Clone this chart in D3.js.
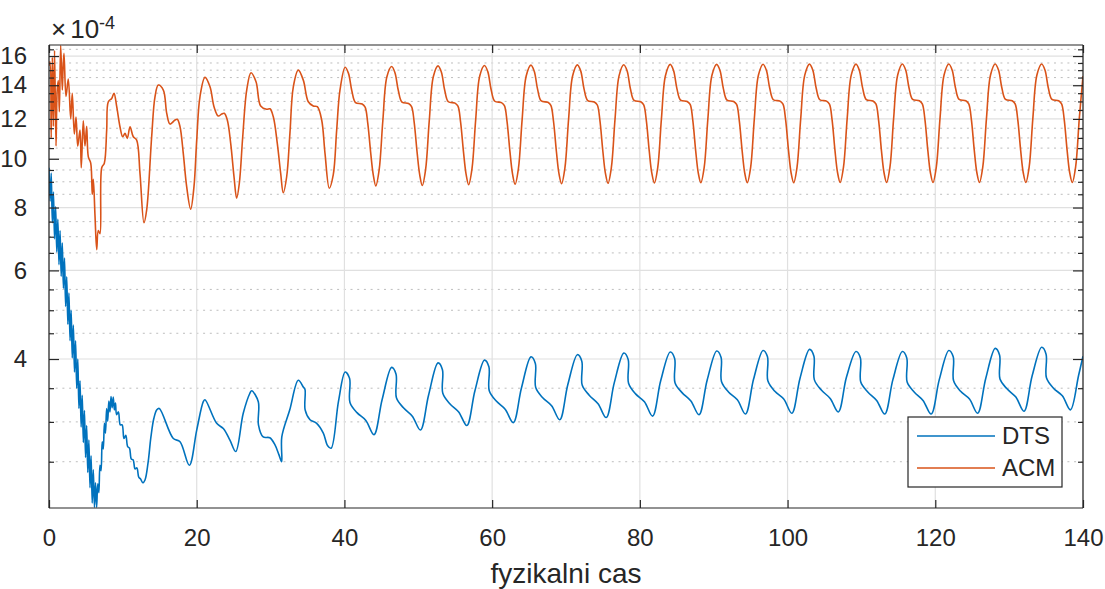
<!DOCTYPE html>
<html>
<head>
<meta charset="utf-8">
<script src="https://cdn.jsdelivr.net/npm/d3@7"></script>
<style>
  body { margin: 0; background: #fff; }
  text { font-family: "Liberation Sans", Arial, sans-serif; fill: #262626; }
</style>
</head>
<body>
<div id="chart"></div>
<script>
// values are in units of 1e-4, time in "fyzikalni cas"
var xTicks = [0, 20, 40, 60, 80, 100, 120, 140];
var yMajor = [4, 6, 8, 10, 12, 14, 16];
var yMinor = [2.5, 3, 3.5, 4.5, 5, 5.5, 6.5, 7, 7.5, 8.5, 9, 9.5, 10.5, 11, 11.5,
              12.5, 13, 13.5, 14.5, 15, 15.5, 16.5];
var seriesNames = ["DTS", "ACM"];

var dtsPoints = [
  [0,9.6],[0.15,8.24],[0.3,9.37],[0.45,7.46],[0.6,8.59],[0.75,6.93],[0.9,8.03],[1.05,6.53],
  [1.2,7.58],[1.35,6.16],[1.5,7.19],[1.65,5.84],[1.8,6.81],[1.95,5.53],[2.1,6.35],[2.25,5.09],
  [2.4,5.83],[2.55,4.69],[2.7,5.41],[2.85,4.35],[3.0,5.0],[3.15,4.02],[3.3,4.67],[3.45,3.77],
  [3.6,4.35],[3.75,3.5],[3.9,4.0],[4.05,3.19],[4.2,3.62],[4.35,2.93],[4.5,3.39],[4.65,2.73],
  [4.8,3.16],[4.95,2.55],[5.1,2.95],[5.25,2.38],[5.4,2.76],[5.55,2.22],[5.7,2.57],[5.85,2.07],
  [6.0,2.41],[6.15,2.03],[6.3,2.27],[6.45,2.03],[6.6,2.26],[6.75,2.17],[6.9,2.46],[7.05,2.4],
  [7.2,2.74],[7.35,2.65],[7.5,2.98],[7.65,2.85],[7.8,3.19],[7.95,3.01],[8.1,3.3],[8.25,3.14],
  [8.4,3.37],[8.55,3.2],[8.7,3.36],[8.85,3.17],[9.0,3.27],[9.15,3.1],[9.4,3.14],[9.65,2.96],
  [9.9,2.96],[10.15,2.78],[10.4,2.82],[10.65,2.68],[10.9,2.66],[11.15,2.53],[11.4,2.52],
  [11.65,2.42],[11.9,2.43],[12.15,2.33],[12.4,2.31],[12.7,2.27],[13.0,2.3],[13.4,2.48],
  [13.8,2.8],[14.2,3.05],[14.6,3.17],[14.93,3.19],
  [16.83,2.78],[17.74,2.74],[19.0,2.46],[20.0,2.89],[20.89,3.29],[21.12,3.32],[22.7,2.98],
  [23.6,2.91],[24.5,2.76],[25.28,2.62],[26.3,3.12],[27.2,3.42],[27.44,3.46],[28.34,3.29],
  [28.36,2.96],[29.0,2.8],[29.9,2.79],[30.6,2.7],[31.14,2.58],[31.5,2.5],[31.52,2.8],
  [32.6,3.17],[33.75,3.63],[34.43,3.52],[34.66,3.48],[34.68,3.17],[35.34,3.03],[36.24,2.98],
  [37.14,2.85],[37.73,2.69],[38.2,2.66],[39.2,3.3],
  [40.1,3.77],[40.7,3.66],[40.75,3.28],[41.7,3.13],[42.9,3.02],[44.0,2.83],[45.1,3.32],
  [46.39,3.85],[46.99,3.73],[47.04,3.35],[47.99,3.2],[49.19,3.08],[50.29,2.89],[51.39,3.39],
  [52.67,3.93],[53.27,3.81],[53.32,3.42],[54.27,3.26],[55.47,3.14],[56.57,2.95],[57.67,3.46],
  [58.96,3.98],[59.56,3.86],[59.61,3.46],[60.56,3.3],[61.76,3.18],[62.86,2.99],[63.96,3.5],
  [65.25,4.04],[65.85,3.92],[65.9,3.51],[66.85,3.35],[68.05,3.23],[69.15,3.03],[70.25,3.56],
  [71.54,4.08],[72.14,3.96],[72.19,3.55],[73.14,3.39],[74.34,3.26],[75.44,3.06],[76.54,3.59],
  [77.82,4.11],[78.42,3.99],[78.47,3.58],[79.42,3.41],[80.62,3.29],[81.72,3.08],[82.82,3.62],
  [84.11,4.13],[84.71,4.01],[84.76,3.59],[85.71,3.43],[86.91,3.3],[88.01,3.1],[89.11,3.63],
  [90.4,4.15],[91.0,4.03],[91.05,3.61],[92.0,3.44],[93.2,3.32],[94.3,3.11],[95.4,3.65],
  [96.68,4.16],[97.28,4.04],[97.33,3.62],[98.28,3.45],[99.48,3.33],[100.58,3.12],[101.68,3.66],
  [102.97,4.18],[103.57,4.05],[103.62,3.64],[104.57,3.47],[105.77,3.34],[106.87,3.14],[107.97,3.68],
  [109.26,4.14],[109.86,4.02],[109.91,3.6],[110.86,3.44],[112.06,3.31],[113.16,3.11],[114.26,3.64],
  [115.54,4.14],[116.14,4.02],[116.19,3.6],[117.14,3.44],[118.34,3.31],[119.44,3.11],[120.54,3.64],
  [121.83,4.16],[122.43,4.04],[122.48,3.62],[123.43,3.45],[124.63,3.33],[125.73,3.12],[126.83,3.66],
  [128.11,4.2],[128.71,4.07],[128.76,3.65],[129.71,3.49],[130.91,3.36],[132.01,3.15],[133.11,3.7],
  [134.4,4.22],[135.0,4.09],[135.05,3.67],[136.0,3.5],[137.2,3.38],[138.3,3.17],[139.4,3.71],[140,4.05]
];

var acmPoints = [
  [0,15.3],[0.14,15.6],[0.3,11.0],[0.45,15.9],[0.6,11.6],[0.75,16.4],[0.95,10.6],[1.1,13.6],
  [1.26,14.3],[1.4,12.4],[1.58,16.8],[1.8,13.7],[1.9,15.1],
  [2.03,16.2],[2.3,13.3],[2.61,14.4],[2.94,12.0],[3.15,13.5],[3.43,11.2],[3.66,12.1],[3.89,10.6],
  [4.2,11.4],[4.37,9.6],[4.64,11.9],[4.87,10.6],[5.1,11.6],[5.32,10.1],[5.65,9.8],[5.86,8.5],
  [6.0,9.1],[6.23,7.7],[6.46,6.6],[6.67,7.2],[6.9,7.1],[7.14,9.6],[7.49,9.8],[7.81,11.4],
  [8.03,12.98],[8.49,13.18],[8.8,13.49],[9.17,12.69],[9.61,11.58],[9.98,11.06],[10.29,11.23],
  [10.6,10.98],[10.97,11.58],[11.41,11.06],[11.87,10.89],[12.32,9.35],[12.86,7.46],[13.23,7.92],
  [13.9,11.06],[14.35,13.28],[14.8,14.01],[15.48,13.69],[15.94,12.31],[16.38,11.72],[17.06,11.94],
  [17.37,11.98],[17.74,11.58],[18.18,10.25],[18.64,8.8],[19.18,7.94],[19.63,8.8],[20.0,10.89],
  [20.44,13.28],[21.12,14.51],[21.8,13.9],[22.34,12.69],[22.92,12.16],[23.38,12.27],[23.73,12.31],
  [24.14,11.94],[24.6,10.73],[25.05,9.21],[25.41,8.35],[25.77,8.94],[26.23,11.06],[26.77,13.69],
  [27.35,14.82],[28.03,14.22],[28.66,12.73],[29.47,12.54],[29.92,12.57],[30.37,12.12],[30.91,10.73],
  [31.37,9.35],[31.72,8.56],[32.18,9.21],[32.62,11.23],[33.08,13.9],[33.75,15.0],[34.43,14.33],
  [35.11,12.98],[35.78,12.73],[36.33,12.69],[36.92,11.94],[37.37,10.25],[37.95,8.74],[38.49,9.3],
  [38.95,11.4],[39.4,13.7],
  [40.1,15.2],[40.55,14.78],[41.0,13.65],[41.5,12.93],[42.4,12.85],[42.8,12.67],[43.15,11.8],
  [43.55,10.3],[43.9,9.3],[44.25,8.83],[44.7,9.5],[45.2,11.9],[45.75,14.55],
  [46.39,15.25],[46.84,14.83],[47.29,13.68],[47.79,12.96],[48.69,12.88],[49.09,12.7],[49.44,11.83],
  [49.84,10.3],[50.19,9.3],[50.54,8.85],[50.99,9.52],[51.49,11.92],[52.04,14.57],
  [52.67,15.3],[53.12,14.88],[53.57,13.7],[54.07,12.98],[54.97,12.9],[55.37,12.72],[55.72,11.85],
  [56.12,10.32],[56.47,9.32],[56.82,8.88],[57.27,9.55],[57.77,11.95],[58.32,14.6],
  [58.96,15.32],[59.41,14.9],[59.86,13.73],[60.36,13.01],[61.26,12.93],[61.66,12.75],[62.01,11.88],
  [62.41,10.33],[62.76,9.33],[63.11,8.9],[63.56,9.57],[64.06,11.96],[64.61,14.6],
  [65.25,15.35],[65.7,14.93],[66.15,13.75],[66.65,13.03],[67.55,12.95],[67.95,12.77],[68.3,11.9],
  [68.7,10.34],[69.05,9.34],[69.4,8.92],[69.85,9.58],[70.35,11.98],[70.9,14.62],
  [71.54,15.37],[71.99,14.95],[72.44,13.77],[72.94,13.05],[73.84,12.97],[74.24,12.79],[74.59,11.92],
  [74.99,10.35],[75.34,9.35],[75.69,8.94],[76.14,9.6],[76.64,12.0],[77.19,14.63],
  [77.82,15.38],[78.27,14.96],[78.72,13.78],[79.22,13.06],[80.12,12.98],[80.52,12.8],[80.87,11.93],
  [81.27,10.36],[81.62,9.36],[81.97,8.95],[82.42,9.6],[82.92,12.0],[83.47,14.64],
  [84.11,15.4],[84.56,14.98],[85.01,13.8],[85.51,13.08],[86.41,13.0],[86.81,12.82],[87.16,11.95],
  [87.56,10.37],[87.91,9.37],[88.26,8.96],[88.71,9.61],[89.21,12.01],[89.76,14.65],
  [90.4,15.4],[90.85,14.98],[91.3,13.8],[91.8,13.08],[92.7,13.0],[93.1,12.82],[93.45,11.95],
  [93.85,10.37],[94.2,9.37],[94.55,8.96],[95.0,9.61],[95.5,12.01],[96.05,14.65],
  [96.68,15.41],[97.13,14.99],[97.58,13.82],[98.08,13.1],[98.98,13.02],[99.38,12.84],[99.73,11.97],
  [100.13,10.38],[100.48,9.37],[100.83,8.96],[101.28,9.62],[101.78,12.02],[102.33,14.66],
  [102.97,15.42],[103.42,15.0],[103.87,13.82],[104.37,13.1],[105.27,13.02],[105.67,12.84],[106.02,11.97],
  [106.42,10.38],[106.77,9.38],[107.12,8.97],[107.57,9.62],[108.07,12.02],[108.62,14.66],
  [109.26,15.42],[109.71,15.0],[110.16,13.83],[110.66,13.11],[111.56,13.03],[111.96,12.85],[112.31,11.98],
  [112.71,10.38],[113.06,9.38],[113.41,8.97],[113.86,9.62],[114.36,12.03],[114.91,14.67],
  [115.54,15.43],[115.99,15.01],[116.44,13.84],[116.94,13.12],[117.84,13.04],[118.24,12.86],[118.59,11.99],
  [118.99,10.39],[119.34,9.38],[119.69,8.97],[120.14,9.63],[120.64,12.03],[121.19,14.67],
  [121.83,15.43],[122.28,15.01],[122.73,13.84],[123.23,13.12],[124.13,13.04],[124.53,12.86],[124.88,11.99],
  [125.28,10.39],[125.63,9.38],[125.98,8.97],[126.43,9.63],[126.93,12.03],[127.48,14.67],
  [128.11,15.43],[128.56,15.01],[129.01,13.84],[129.51,13.12],[130.41,13.04],[130.81,12.86],[131.16,11.99],
  [131.56,10.39],[131.91,9.38],[132.26,8.97],[132.71,9.63],[133.21,12.03],[133.76,14.67],
  [134.4,15.43],[134.85,15.01],[135.3,13.84],[135.8,13.12],[136.7,13.04],[137.1,12.86],[137.45,11.99],
  [137.85,10.39],[138.2,9.38],[138.55,8.97],[139.0,9.63],[139.5,12.03],[140.0,14.6]
];

var colors = ["#0072BD", "#D95319"];

// set the dimensions and margins of the graph
var margin = {top: 45, right: 22, bottom: 81, left: 49},
    width = 1105 - margin.left - margin.right,
    height = 589 - margin.top - margin.bottom;

var x = d3.scaleLinear().domain([0, 140]).range([0, width]);
var y = d3.scaleLog().domain([2.023, 16.83]).range([height, 0]);

var svg = d3.select("#chart")
  .append("svg")
    .attr("width", width + margin.left + margin.right)
    .attr("height", height + margin.top + margin.bottom)
  .append("g")
    .attr("transform", "translate(" + margin.left + "," + margin.top + ")");

svg.append("rect").attr("width", width).attr("height", height).attr("fill", "#fff");

// minor y grid (dotted)
svg.selectAll(".ygridminor").data(yMinor).enter().append("line")
  .attr("x1", 0).attr("x2", width)
  .attr("y1", function(d) { return y(d); }).attr("y2", function(d) { return y(d); })
  .attr("stroke", "#bdbdbd").attr("stroke-width", 1).attr("stroke-dasharray", "2,4.7");

// major grid
svg.selectAll(".ygrid").data(yMajor).enter().append("line")
  .attr("x1", 0).attr("x2", width)
  .attr("y1", function(d) { return y(d); }).attr("y2", function(d) { return y(d); })
  .attr("stroke", "#e0e0e0").attr("stroke-width", 1.2);
svg.selectAll(".xgrid").data(xTicks).enter().append("line")
  .attr("y1", 0).attr("y2", height)
  .attr("x1", function(d) { return x(d); }).attr("x2", function(d) { return x(d); })
  .attr("stroke", "#e0e0e0").attr("stroke-width", 1.2);

// lines
svg.append("clipPath").attr("id", "clip").append("rect")
  .attr("width", width).attr("height", height);

var line = d3.line()
  .x(function(d) { return x(d[0]); })
  .y(function(d) { return y(d[1]); })
  .curve(d3.curveCatmullRom.alpha(0.5));

[dtsPoints, acmPoints].forEach(function(pts, i) {
  svg.append("path")
    .datum(pts)
    .attr("clip-path", "url(#clip)")
    .attr("fill", "none")
    .attr("stroke", colors[i])
    .attr("stroke-width", 1.6)
    .attr("stroke-linejoin", "round")
    .attr("d", line);
});

// axes: MATLAB-style box with inward ticks
var axisColor = "#262626";
var gx = svg.append("g").attr("transform", "translate(0," + height + ")")
  .call(d3.axisBottom(x).tickValues(xTicks).tickSize(-8).tickPadding(21).tickFormat(d3.format("d")));
var gxt = svg.append("g")
  .call(d3.axisTop(x).tickValues(xTicks).tickSize(-8).tickFormat(""));
var gy = svg.append("g")
  .call(d3.axisLeft(y).tickValues(yMajor).tickSize(-10).tickPadding(22).tickFormat(d3.format("d")));
var gyr = svg.append("g").attr("transform", "translate(" + width + ",0)")
  .call(d3.axisRight(y).tickValues(yMajor).tickSize(-10).tickFormat(""));
var gym = svg.append("g")
  .call(d3.axisLeft(y).tickValues(yMinor).tickSize(-5).tickFormat(""));
var gymr = svg.append("g").attr("transform", "translate(" + width + ",0)")
  .call(d3.axisRight(y).tickValues(yMinor).tickSize(-5).tickFormat(""));

[gx, gxt, gy, gyr, gym, gymr].forEach(function(g) {
  g.attr("font-size", null).attr("font-family", null);
  g.select(".domain").attr("stroke", axisColor).attr("stroke-width", 1.2);
  g.selectAll(".tick line").attr("stroke", axisColor).attr("stroke-width", 1.2);
  g.selectAll(".tick text").attr("fill", axisColor).attr("font-size", 24);
});
gy.select(".domain").attr("d", "M0," + height + "V0");
gyr.select(".domain").attr("d", "M0," + height + "V0");
gx.select(".domain").attr("d", "M0,0H" + width);
gxt.select(".domain").attr("d", "M0,0H" + width);
gym.select(".domain").remove();
gymr.select(".domain").remove();

// exponent label
var expo = svg.append("text").attr("x", 2).attr("y", -7).attr("font-size", 26);
expo.append("tspan").text("\u00d7");
expo.append("tspan").attr("dx", 4).text("10");
expo.append("tspan").attr("dy", -9).attr("font-size", 18).text("-4");

// x label
svg.append("text")
  .attr("x", width / 2).attr("y", height + 75)
  .attr("text-anchor", "middle")
  .attr("font-size", 28)
  .text("fyzikalni cas");

// legend
var lg = svg.append("g").attr("transform", "translate(" + (width - 175) + "," + (height - 91) + ")");
lg.append("rect").attr("width", 154).attr("height", 70)
  .attr("fill", "#fff").attr("stroke", axisColor).attr("stroke-width", 1.2);
seriesNames.forEach(function(name, i) {
  lg.append("line").attr("x1", 9).attr("x2", 87)
    .attr("y1", 19 + i * 32).attr("y2", 19 + i * 32)
    .attr("stroke", colors[i]).attr("stroke-width", 1.6);
  lg.append("text").attr("x", 94).attr("y", 19 + i * 32)
    .attr("dy", "0.35em").attr("font-size", 24).text(name);
});
</script>
</body>
</html>
